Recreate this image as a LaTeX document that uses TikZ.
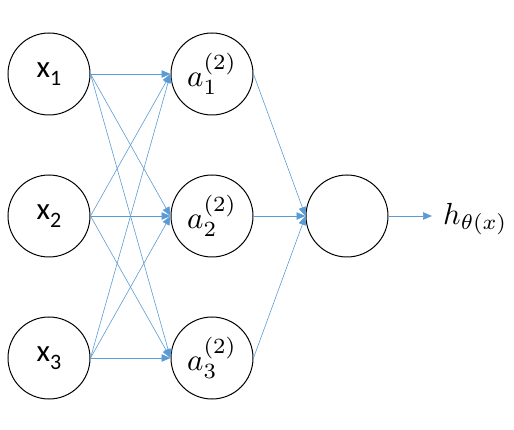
\documentclass[tikz,border=0pt]{standalone}
\usepackage{fontspec}
\usepackage{graphicx}
\newfontfamily\calib{Carlito}
\usetikzlibrary{arrows.meta}
\definecolor{lineblue}{RGB}{91,155,213}
\newcommand{\xlab}[1]{{\fontsize{31}{32}\calib x\fontsize{22}{24}\selectfont\raisebox{-8pt}{#1}}}
\newcommand{\alab}[1]{\scalebox{3.1}{$a_{#1}^{(2)}$}}
\begin{document}
\begin{tikzpicture}[x=1pt,y=-1pt,
  neuron/.style={circle,draw=black,line width=1pt,minimum size=82pt,inner sep=0pt},
  conn/.style={draw=lineblue,line width=0.6pt,-{Triangle[length=9pt,width=7.5pt]}}]
\useasboundingbox (0,0) rectangle (514,430);
\node[neuron] (x1) at (49,74) {\xlab{1}};
\node[neuron] (x2) at (49,216) {\xlab{2}};
\node[neuron] (x3) at (49,358) {\xlab{3}};
\node[neuron] (a1) at (212,74) {\alab{1}};
\node[neuron] (a2) at (212,216) {\alab{2}};
\node[neuron] (a3) at (212,358) {\alab{3}};
\node[neuron] (o) at (347,216) {};
\coordinate (h) at (432,216);
\node[anchor=west,inner sep=0pt] (ht) at (443,219) {\scalebox{3.05}{$h_{\theta(x)}$}};
\foreach \i in {1,2,3}{
  \foreach \j in {1,2,3}{
    \draw[conn] (x\i.east) -- (a\j.west);
  }
  \draw[conn] (a\i.east) -- (o.west);
}
\draw[conn] (o.east) -- (h);
\end{tikzpicture}
\end{document}
